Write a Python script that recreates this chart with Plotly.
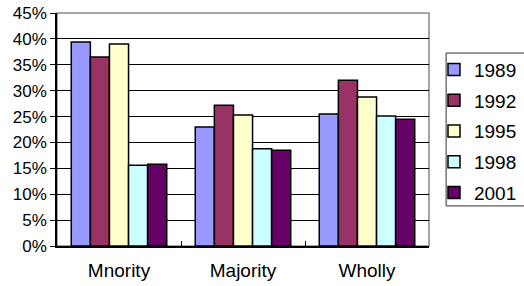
import plotly.graph_objects as go

categories = ["Mnority", "Majority", "Wholly"]
years = ["1989", "1992", "1995", "1998", "2001"]
values_1989 = [0.394, 0.230, 0.255]
values_1992 = [0.365, 0.272, 0.320]
values_1995 = [0.390, 0.253, 0.288]
values_1998 = [0.156, 0.188, 0.251]
values_2001 = [0.158, 0.185, 0.245]
series = [values_1989, values_1992, values_1995, values_1998, values_2001]
colors = ["#9999FF", "#993366", "#FFFFCC", "#CCFFFF", "#660066"]
y_ticks = [0, 0.05, 0.10, 0.15, 0.20, 0.25, 0.30, 0.35, 0.40, 0.45]

FONT = "Liberation Sans"

fig = go.Figure()
for yr, vals, col in zip(years, series, colors):
    fig.add_trace(go.Bar(
        name=yr, x=categories, y=vals, legendgroup=yr,
        marker=dict(color=col, line=dict(color="black", width=1.5)),
    ))

fig.update_layout(
    width=524, height=286,
    margin=dict(l=57, r=95, t=13, b=40, autoexpand=False),
    paper_bgcolor="white", plot_bgcolor="white",
    barmode="group", bargap=0.23, bargroupgap=0,
    font=dict(family=FONT, size=17, color="black"),
    showlegend=True,
    legend=dict(
        x=1.0134, y=0.838, xanchor="left", yanchor="top",
        borderwidth=0, bgcolor="rgba(0,0,0,0)",
        font=dict(family=FONT, size=19, color="black"),
        tracegroupgap=3, itemwidth=30,
    ),
    xaxis=dict(
        showline=True, linecolor="black", linewidth=1.5, automargin=False,
        ticks="inside", ticklen=5, tickcolor="black", tickson="boundaries",
        tickfont=dict(size=19), showgrid=False, ticklabelstandoff=6,
    ),
    yaxis=dict(
        range=[0, 0.45], tickvals=y_ticks, tickformat=".0%", automargin=False,
        showline=True, linecolor="black", linewidth=1.5,
        ticks="outside", ticklen=5, tickcolor="black",
        showgrid=True, gridcolor="black", gridwidth=1,
        tickfont=dict(size=17), zeroline=False,
    ),
    shapes=[
        dict(type="rect", xref="paper", yref="paper", x0=0, y0=0, x1=1, y1=1,
             line=dict(color="#888888", width=1.5), layer="below"),
        dict(type="rect", xref="paper", yref="paper", x0=1.046, y0=0.172, x1=1.26, y1=0.828,
             line=dict(color="#333333", width=1), layer="below"),
    ],
)

fig.write_html("out.html", config={"displayModeBar": False},
               post_script="document.body.style.margin='0';")
